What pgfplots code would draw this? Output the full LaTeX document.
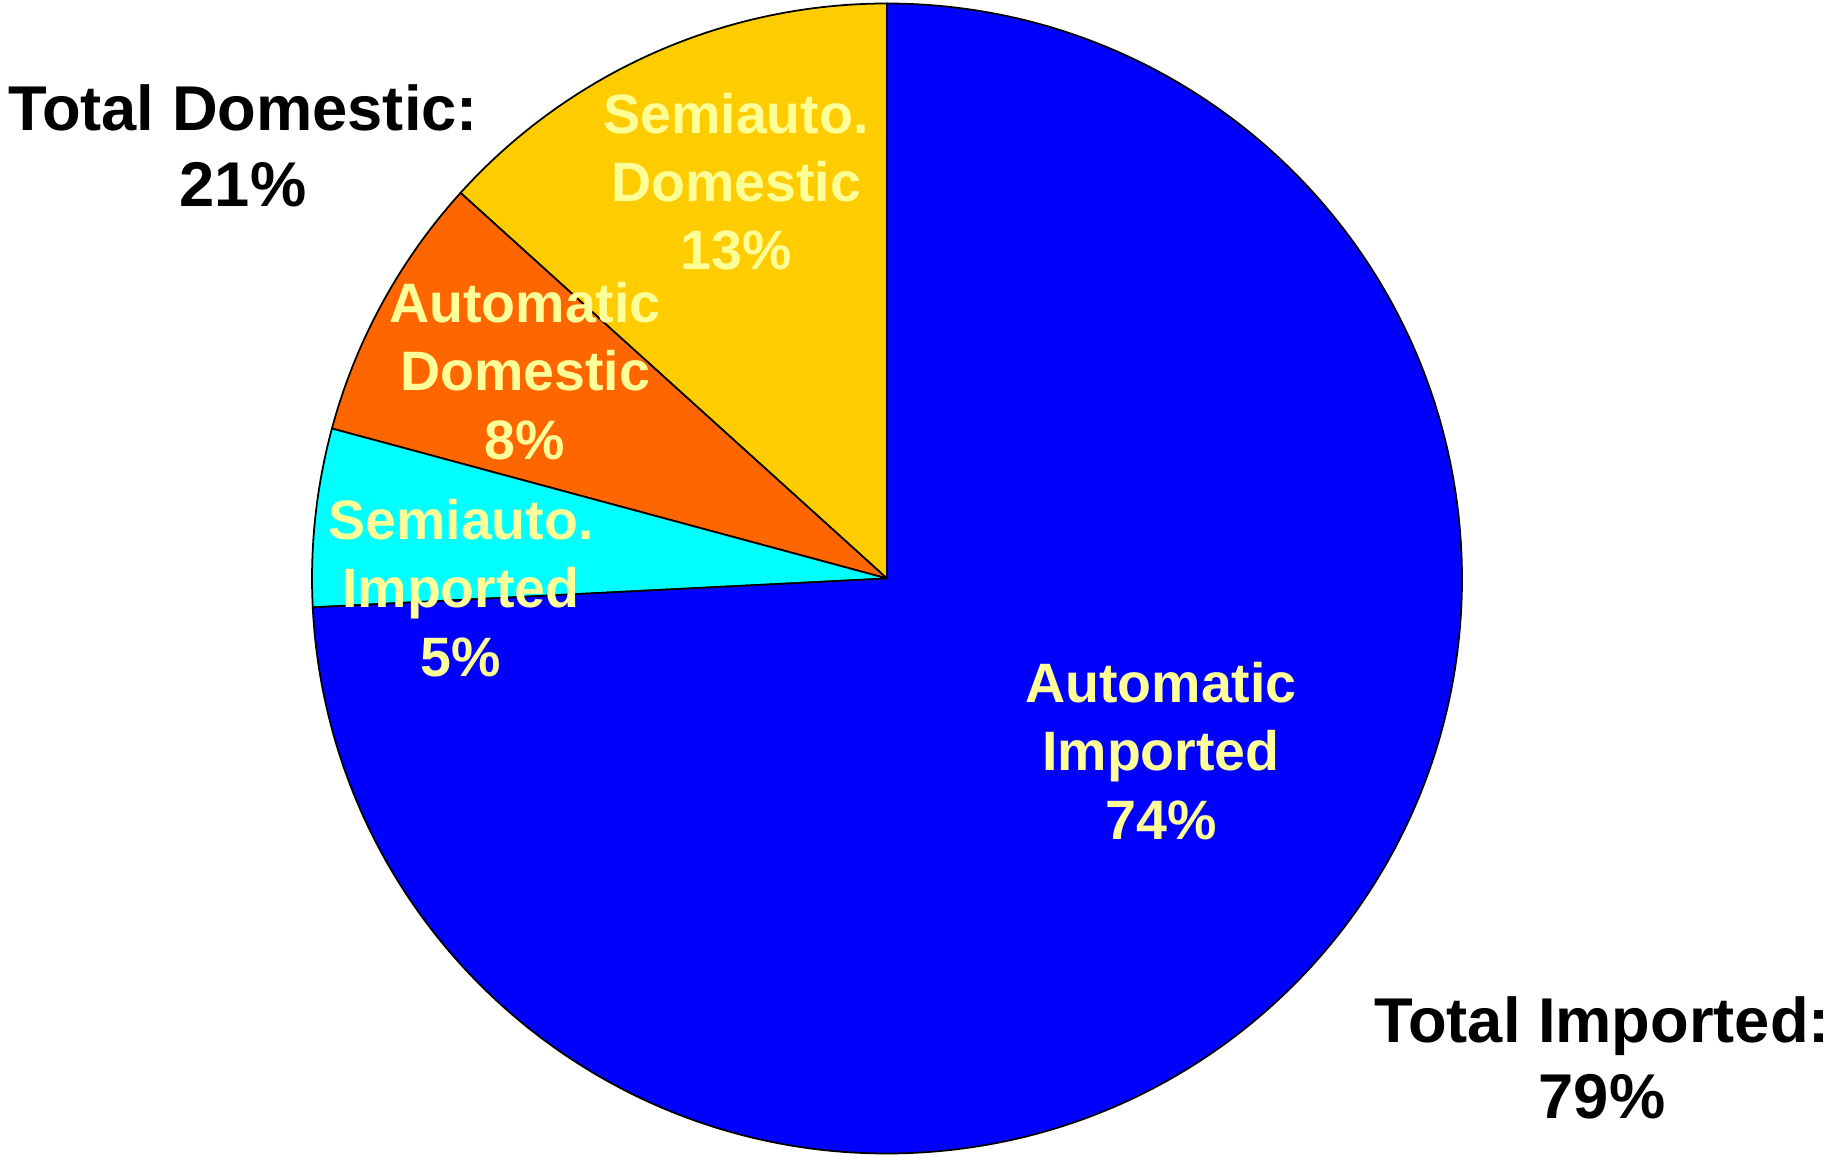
\documentclass[border=0pt]{standalone}
\usepackage{pgfplots}
\usepackage{pgfplotstable}
\pgfplotsset{compat=1.18}
\usepackage{fontspec}
\setmainfont{Liberation Sans}

\definecolor{semidom}{HTML}{FFCC00}
\definecolor{autodom}{HTML}{FF6600}
\definecolor{semiimp}{HTML}{00FFFF}
\definecolor{autoimp}{HTML}{0000FF}
\definecolor{lbl}{HTML}{FFFF99}

% shares in percent, counter-clockwise from 12 o'clock
\pgfplotstableread{
name value
SemiautoDomestic 13.3
AutomaticDomestic 7.5
SemiautoImported 5.0
AutomaticImported 74.2
}\piedata

\pgfplotstablegetelem{0}{value}\of\piedata \pgfmathsetmacro\angA{90+3.6*\pgfplotsretval}
\pgfplotstablegetelem{1}{value}\of\piedata \pgfmathsetmacro\angB{\angA+3.6*\pgfplotsretval}
\pgfplotstablegetelem{2}{value}\of\piedata \pgfmathsetmacro\angC{\angB+3.6*\pgfplotsretval}
\pgfplotstablegetelem{3}{value}\of\piedata \pgfmathsetmacro\angD{\angC+3.6*\pgfplotsretval}

\begin{document}
\begin{tikzpicture}
\begin{axis}[
  name=ax,
  x=0.1mm, y=0.1mm,
  xmin=0, xmax=1837, ymin=0, ymax=1156,
  hide axis, scale only axis, clip=false,
]
\def\R{57.5mm}
\filldraw[fill=semidom, draw=black, line width=0.5pt]
  (axis cs:887,577.5) -- ++(90:\R) arc[start angle=90, end angle=\angA, radius=\R] -- cycle;
\filldraw[fill=autodom, draw=black, line width=0.5pt]
  (axis cs:887,577.5) -- ++(\angA:\R) arc[start angle=\angA, end angle=\angB, radius=\R] -- cycle;
\filldraw[fill=semiimp, draw=black, line width=0.5pt]
  (axis cs:887,577.5) -- ++(\angB:\R) arc[start angle=\angB, end angle=\angC, radius=\R] -- cycle;
\filldraw[fill=autoimp, draw=black, line width=0.5pt]
  (axis cs:887,577.5) -- ++(\angC:\R) arc[start angle=\angC, end angle=\angD, radius=\R] -- cycle;

\tikzset{lab/.style={align=center, text=lbl, font=\fontsize{15.8}{19.4}\selectfont\bfseries, inner sep=0pt},
         tot/.style={align=center, text=black, font=\fontsize{18}{21.7}\selectfont\bfseries, inner sep=0pt}}
\node[lab] at (axis cs:736,974) {Semiauto.\\Domestic\\13\%};
\node[lab] at (axis cs:525,785) {Automatic\\Domestic\\8\%};
\node[lab] at (axis cs:461,568) {Semiauto.\\Imported\\5\%};
\node[lab] at (axis cs:1161,405) {Automatic\\Imported\\74\%};
\node[tot] at (axis cs:243,1010) {Total Domestic:\\21\%};
\node[tot] at (axis cs:1602,98) {Total Imported:\\79\%};
\end{axis}
\pgfresetboundingbox
\path (ax.south west) rectangle (ax.north east);
\end{tikzpicture}
\end{document}
